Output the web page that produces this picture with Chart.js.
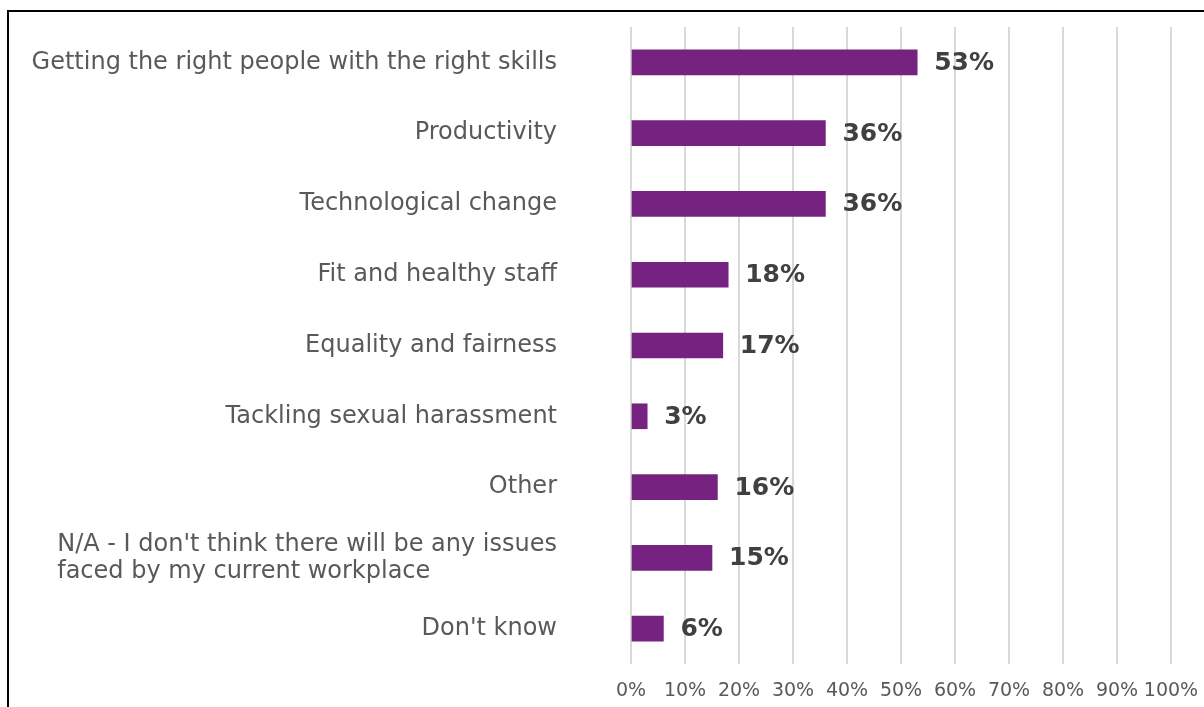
<!DOCTYPE html>
<html>
<head>
<meta charset="utf-8">
<script src="https://cdn.jsdelivr.net/npm/chart.js@4.4.1/dist/chart.umd.min.js"></script>
<style>
  html, body { margin: 0; padding: 0; background: #fff; overflow: hidden; }
  #wrap { position: relative; width: 1204px; height: 707px; }
  #frame {
    position: absolute; left: 7px; top: 10px;
    width: 1300px; height: 800px;
    border: 2px solid #000; pointer-events: none;
  }
</style>
</head>
<body>
<div id="wrap">
  <canvas id="myChart" width="1204" height="707"></canvas>
  <div id="frame"></div>
</div>
<script>
// Issues expected to be faced by the workplace (% of respondents)
const issues = [
  'Getting the right people with the right skills',
  'Productivity',
  'Technological change',
  'Fit and healthy staff',
  'Equality and fairness',
  'Tackling sexual harassment',
  'Other',
  ["N/A - I don't think there will be any issues", 'faced by my current workplace'],
  "Don't know"
];
const shares = [53, 36, 36, 18, 17, 3, 16, 15, 6];
const xTicks = [0, 10, 20, 30, 40, 50, 60, 70, 80, 90, 100];

const FONT = "'DejaVu Sans', Verdana, sans-serif";
const PURPLE = '#762281';

// category labels: block right-aligned to the gap, lines left-aligned inside it
const issueLabels = {
  id: 'issueLabels',
  afterDraw(chart) {
    const ctx = chart.ctx;
    const y = chart.scales.y;
    ctx.save();
    ctx.font = '24px ' + FONT;
    ctx.fillStyle = '#595959';
    ctx.textBaseline = 'middle';
    ctx.textAlign = 'left';
    const right = chart.chartArea.left - 74;
    const lh = 27;
    issues.forEach(function (lab, i) {
      const lines = Array.isArray(lab) ? lab : [lab];
      let w = 0;
      lines.forEach(function (l) { w = Math.max(w, ctx.measureText(l).width); });
      const cy = y.getPixelForValue(i);
      const top = cy - (lines.length - 1) * lh / 2;
      lines.forEach(function (l, j) {
        ctx.fillText(l, right - w, top + j * lh);
      });
    });
    ctx.restore();
  }
};

// value labels at the end of each bar
const valueLabels = {
  id: 'valueLabels',
  afterDatasetsDraw(chart) {
    const ctx = chart.ctx;
    const meta = chart.getDatasetMeta(0);
    ctx.save();
    ctx.font = 'bold 25px ' + FONT;
    ctx.fillStyle = '#404040';
    ctx.textBaseline = 'middle';
    ctx.textAlign = 'left';
    meta.data.forEach(function (bar, i) {
      ctx.fillText(shares[i] + '%', bar.x + 17, bar.y + 1);
    });
    ctx.restore();
  }
};

const data = {
  labels: issues,
  datasets: [{
    data: shares,
    backgroundColor: PURPLE,
    borderWidth: 0,
    barThickness: 25
  }]
};

const config = {
  type: 'bar',
  data: data,
  options: {
    indexAxis: 'y',
    responsive: false,
    animation: false,
    layout: { padding: { top: 27, right: 33, left: 0, bottom: 0 } },
    plugins: {
      legend: { display: false },
      tooltip: { enabled: false }
    },
    scales: {
      x: {
        min: 0,
        max: 100,
        afterBuildTicks: function (scale) {
          scale.ticks = xTicks.map(function (v) { return { value: v }; });
        },
        afterFit: function (scale) {
          scale.height = 43;
          scale.paddingLeft = 0;
          scale.paddingRight = 0;
        },
        grid: { color: '#D9D9D9', lineWidth: 2, drawTicks: false },
        border: { display: false },
        ticks: {
          padding: 16,
          color: '#595959',
          font: { family: FONT, size: 19 },
          maxRotation: 0,
          autoSkip: false,
          callback: function (v) { return v + '%'; }
        }
      },
      y: {
        afterFit: function (scale) { scale.width = 631; },
        grid: { display: false },
        border: { display: false },
        ticks: { display: false }
      }
    }
  },
  plugins: [issueLabels, valueLabels]
};

const myChart = new Chart(document.getElementById('myChart'), config);
</script>
</body>
</html>
